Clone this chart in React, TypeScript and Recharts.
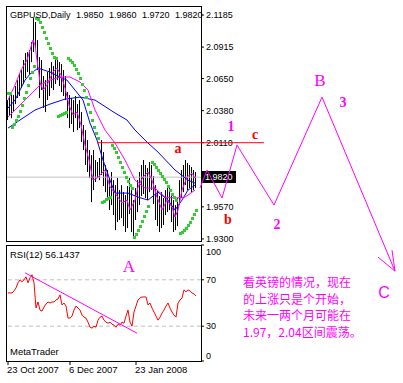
import React from 'react';
import { ComposedChart, Line, Bar, Scatter, XAxis, YAxis, ReferenceLine } from 'recharts';

// GBPUSD daily bars from 23 Oct 2007
const highs = [
  2.0469, 2.0503, 2.0536, 2.0511, 2.0587, 2.0637, 2.0688, 2.0722, 2.0806, 2.0865,
  2.0873, 2.089, 2.0957, 2.1159, 2.1126, 2.0974, 2.0831, 2.0806, 2.0671, 2.0637,
  2.0705, 2.0738, 2.0789, 2.0755, 2.0806, 2.0823, 2.0789, 2.0772, 2.0722, 2.0671,
  2.0536, 2.0511, 2.0486, 2.0469, 2.0503, 2.0435, 2.0469, 2.0368, 2.0259, 2.0216,
  2.0132, 2.0048, 2.0006, 2.0048, 1.9964, 1.9947, 1.9981, 2.0132, 2.0031, 1.9922,
  1.988, 1.9812, 1.9863, 1.9795, 1.9753, 1.9812, 1.9711, 1.9753, 1.9694, 1.9669,
  1.9745, 1.9812, 1.9711, 1.9627, 1.9728, 1.9795, 1.9863, 1.9922, 1.9964, 1.9922,
  1.9896, 1.9947, 1.9922, 1.9829, 1.9753, 1.9711, 1.9661, 1.9694, 1.9644, 1.9711,
  1.9745, 1.9728, 1.9678, 1.9627, 1.9585, 1.9644, 1.9795, 1.988, 1.9922, 1.9964,
  1.9939, 1.9922, 1.9905, 1.988, 1.9863,
];
const lows = [
  2.0301, 2.0334, 2.0317, 2.0368, 2.0435, 2.0486, 2.0503, 2.057, 2.0604, 2.0654,
  2.0705, 2.0688, 2.0789, 2.0873, 2.0907, 2.0722, 2.0486, 2.0553, 2.0402, 2.0368,
  2.0469, 2.0503, 2.057, 2.0553, 2.0604, 2.0637, 2.0587, 2.0536, 2.0503, 2.0469,
  2.0317, 2.0233, 2.0267, 2.02, 2.0317, 2.0216, 2.0233, 2.0115, 2.0048, 1.9922,
  1.9863, 1.9812, 1.961, 1.9711, 1.9779, 1.9812, 1.9795, 1.9838, 1.9745, 1.9694,
  1.9627, 1.9543, 1.9585, 1.9501, 1.9374, 1.9442, 1.9459, 1.9475, 1.9408, 1.9358,
  1.9391, 1.9509, 1.9358, 1.9307, 1.9459, 1.9526, 1.9585, 1.9661, 1.9678, 1.9644,
  1.9627, 1.9694, 1.9711, 1.9593, 1.9459, 1.9408, 1.9358, 1.9391, 1.9417, 1.9501,
  1.9526, 1.9543, 1.9442, 1.9358, 1.9374, 1.9408, 1.9585, 1.9644, 1.9694, 1.9753,
  1.9711, 1.9728, 1.9694, 1.9711, 1.9728,
];
// parabolic SAR, null where it flips
const sar = [
  2.0528, 2.0528,
  2.0242, 2.0267, 2.0301, 2.0334, 2.0376, 2.0427, 2.0486, 2.0536, 2.0595, 2.0654, 2.0705, 2.0755,
  2.1159, 2.1151, 2.1126, 2.1084, 2.1042, 2.0991, 2.0949, 2.0907, 2.0865, 2.0831, 2.0823,
  2.0334, 2.0343, 2.0351, 2.036, 2.0368,
  2.0823, 2.0806, 2.0789, 2.0764, 2.073, 2.0696, 2.0654, 2.0604, 2.0553, 2.0494, 2.0435, 2.0368,
  2.0301, 2.0242, 2.0191, 2.0149,
  null,
  1.961, 1.9619, 1.9635, 1.9644, 1.9652,
  2.009, 2.0065, 2.0031, 1.9989, 1.9947, 1.9905, 1.9863, 1.9821, 1.9787, 1.9753, 1.9728,
  1.9316, 1.9341, 1.9374, 1.9408, 1.945, 1.9492, 1.9534, 1.9577,
  null,
  1.9947, 1.993, 1.9905, 1.988, 1.9854, 1.9829, 1.9804, 1.9779, 1.9745, 1.9711, 1.9678, 1.9652, 1.9627,
  null,
  1.9349, 1.9358, 1.9374, 1.9391, 1.9417, 1.9442, 1.9475, 1.9509, 1.9543,
];
const rsi = [
  58.7, 58.7, 58.7, 60.4, 63.0, 67.4, 70.0, 68.3, 70.0, 72.6,
  67.4, 71.7, 74.3, 67.4, 45.7, 50.9, 43.9, 43.0, 46.5, 49.1,
  50.9, 50.0, 50.9, 50.9, 52.6, 53.5, 57.0, 48.3, 50.0, 47.4,
  37.0, 37.0, 38.7, 43.9, 47.4, 45.7, 43.9, 39.6, 37.8, 37.0,
  33.5, 29.1, 28.3, 30.0, 29.1, 35.2, 37.8, 38.7, 35.2, 33.5,
  32.6, 33.5, 31.7, 30.9, 29.1, 31.7, 30.9, 33.5, 32.6, 38.7,
  43.9, 33.5, 30.0, 42.2, 47.4, 52.6, 54.3, 55.2, 55.2, 55.2,
  48.3, 50.0, 45.7, 42.2, 38.7, 35.2, 37.8, 41.3, 43.9, 47.4,
  50.0, 45.7, 42.2, 39.6, 37.8, 50.0, 52.6, 54.3, 61.3, 59.6,
  61.3, 60.4, 58.7, 57.8, 56.1,
];

// moving averages, [bar, price]
const maFast = [
  [0, 2.0469], [3.5, 2.0595], [6.5, 2.0722], [9.5, 2.0806], [12.5, 2.0974], [13.5, 2.0932],
  [14.5, 2.0806], [16, 2.0621], [17.5, 2.0553], [19.5, 2.0595], [22.5, 2.0705], [24.5, 2.0738],
  [26.5, 2.068], [28.5, 2.057], [30.5, 2.0427], [32.5, 2.0343], [34.5, 2.0368], [36.5, 2.0259],
  [38.5, 2.009], [40.5, 1.9964], [42.5, 1.9795], [44.5, 1.9812], [47, 1.9854], [48.5, 1.988],
  [51, 1.9737], [53.5, 1.9686], [57, 1.9602], [59.5, 1.9627], [61, 1.9543], [63.5, 1.9627],
  [65, 1.9737], [67.5, 1.9821], [70, 1.9863], [72, 1.9795], [74.5, 1.9652], [77, 1.9543],
  [79.5, 1.9627], [82, 1.9568], [83.5, 1.9484], [85, 1.9543], [87, 1.9711], [89.5, 1.9821],
  [92, 1.9854], [93.5, 1.9812],
];
const maSlow = [
  [0, 2.0326], [3.5, 2.0385], [8.5, 2.0469], [12.5, 2.0536], [16, 2.0595], [21, 2.0637],
  [26, 2.0663], [31, 2.0663], [36, 2.0621], [40, 2.0553], [43.5, 2.0385], [48.5, 2.0216],
  [53.5, 2.0107], [58.5, 1.9964], [63.5, 1.9795], [68.5, 1.9728], [73.5, 1.9728], [78.5, 1.9652],
  [83.5, 1.9644], [88.5, 1.9652], [93.5, 1.9711],
];
const blueFast = [
  [0, 2.0402], [3.5, 2.0469], [6, 2.0553], [8.5, 2.0637], [11, 2.0688], [15, 2.0738],
  [21, 2.0705], [26, 2.0663], [29.5, 2.0637], [33.5, 2.0553], [37.5, 2.0469], [41, 2.0275],
  [44.5, 2.0132], [47.5, 1.9964], [51, 1.9795], [53.5, 1.9686], [60, 1.9686], [65, 1.9652],
  [70, 1.9627], [75, 1.9694], [80, 1.9627], [83.5, 1.9543], [87, 1.9627], [90, 1.9711],
  [93.5, 1.9753],
];
const blueSlow = [
  [0, 2.0233], [6, 2.0301], [13.5, 2.0385], [21, 2.0435], [28.5, 2.0477], [36, 2.0494],
  [43.5, 2.0469], [53.5, 2.036], [59.5, 2.0301], [63.5, 2.0216], [70, 2.0107], [75, 2.0031],
  [83.5, 1.988], [90, 1.9795], [93.5, 1.977],
];

const rsiTrend = [[8.5, 76], [64.5, 24]];
const zigzag = [[96, 1.9729], [99.5, 1.988], [107, 1.9644], [114.5, 2.009], [133, 1.9585], [157, 2.0494], [193.5, 1.9029]];
const arrowA = [[185, 1.9147], [193.5, 1.9029]];
const arrowB = [[192, 1.9206], [193.5, 1.9029]];
const resistance = [[44.5, 2.011], [128, 2.011]];

const priceTicks = [1.93, 1.957, 2.011, 2.038, 2.065, 2.0915, 2.1185];
const rsiTicks = [0, 30, 70, 100];
const dateTicks = [0, 31, 64];
const dateLabels = ['23 Oct 2007', '6 Dec 2007', '23 Jan 2008'];
const ohlc = [1.985, 1.986, 1.972, 1.982];
const lastPrice = 1.982;
const note = ['看英镑的情况，现在', '的上涨只是个开始，', '未来一两个月可能在', '1.97，2.04区间震荡。'];

const MAGENTA = '#ff00ff';
const BLUE = '#0000ff';
const RED = '#ff0000';
const FONT = '"Liberation Sans", Arial, sans-serif';
const SERIF = '"Liberation Serif", "Times New Roman", serif';

const toPts = (arr) => arr.map(([i, v]) => ({ i, v }));

const rows = highs.map((h, i) => ({ i, hl: [lows[i], h] }));
const sarPts = sar.map((v, i) => ({ i, v })).filter((d) => d.v != null);
const rsiPts = rsi.map((v, i) => ({ i, v }));

const HLBar = (props) => {
  const { x, y, width, height } = props;
  if (x == null || y == null || isNaN(y)) return null;
  const top = Math.min(y, y + height);
  return <rect x={Math.round(x + width / 2 - 0.5)} y={top} width={1} height={Math.max(1, Math.abs(height))} fill="#000" />;
};

const SarDot = (props) => {
  const { cx, cy } = props;
  if (cx == null || cy == null) return null;
  return <rect x={Math.round(cx) - 1} y={Math.round(cy) - 1} width={3} height={3} fill="#33cc33" />;
};

const RsiTick = ({ x, y, payload }) => {
  const dy = payload.value === 100 ? 7 : payload.value === 0 ? -5 : 0;
  return (
    <text x={x} y={y + dy} dy="0.35em" fontSize={9} fontFamily={FONT} fill="#000" textAnchor="start">
      {payload.value}
    </text>
  );
};

const DateTick = ({ x, y, payload }) => (
  <text x={x - 1} y={y} dy="0.75em" fontSize={9.5} fontFamily={FONT} fill="#000" textAnchor="start">
    {dateLabels[dateTicks.indexOf(payload.value)]}
  </text>
);

const Tag = ({ x, y, c, s, serif = true, bold = false, children }) => (
  <div
    style={{
      position: 'absolute', left: x, top: y, transform: 'translate(-50%,-50%)',
      color: c, fontSize: s, fontFamily: serif ? SERIF : FONT,
      fontWeight: bold ? 'bold' : 'normal', lineHeight: 1, whiteSpace: 'nowrap',
    }}
  >
    {children}
  </div>
);

const abs = (l, t) => ({ position: 'absolute', left: l, top: t });

const line = (data, color, key) => (
  <Line key={key} data={toPts(data)} dataKey="v" stroke={color} strokeWidth={1} dot={false} activeDot={false} isAnimationActive={false} />
);

export default function App() {
  return (
    <div style={{ position: 'absolute', left: 0, top: 0, width: 403, height: 383, background: '#fff', fontFamily: FONT, overflow: 'hidden' }}>
      {/* panel frames */}
      <div style={{ ...abs(6, 6), width: 196, height: 236, border: '1px solid #000', boxSizing: 'border-box' }} />
      <div style={{ ...abs(6, 245), width: 196, height: 117, border: '1px solid #000', boxSizing: 'border-box' }} />

      {/* price panel */}
      <div style={abs(0, 0)}>
        <ComposedChart width={250} height={250} data={rows} margin={{ top: 6, right: 0, bottom: 8, left: 7 }}>
          <XAxis hide type="number" dataKey="i" domain={[-0.5, 96.5]} allowDataOverflow />
          <YAxis
            orientation="right"
            width={49}
            domain={[1.9274, 2.1261]}
            allowDataOverflow
            ticks={priceTicks}
            interval={0}
            tickFormatter={(v) => v.toFixed(4)}
            axisLine={false}
            tickSize={3}
            tickMargin={2}
            tickLine={{ stroke: '#000' }}
            tick={{ fontSize: 9, fill: '#000', fontFamily: FONT }}
          />
          <ReferenceLine y={lastPrice} stroke="#c0c0c0" />
          <Bar dataKey="hl" barSize={1} shape={HLBar} isAnimationActive={false} />
          {line(blueSlow, BLUE, 'b2')}
          {line(blueFast, BLUE, 'b1')}
          {line(maSlow, MAGENTA, 'm2')}
          {line(maFast, MAGENTA, 'm1')}
          <Scatter data={sarPts} dataKey="v" shape={SarDot} isAnimationActive={false} />
        </ComposedChart>
      </div>

      {/* RSI panel */}
      <div style={abs(0, 240)}>
        <ComposedChart width={250} height={143} data={rsiPts} margin={{ top: 5, right: 0, bottom: 0, left: 7 }}>
          <XAxis
            type="number"
            dataKey="i"
            domain={[-0.5, 96.5]}
            allowDataOverflow
            ticks={dateTicks}
            interval={0}
            height={22}
            axisLine={false}
            tickSize={4}
            tickMargin={1}
            tickLine={{ stroke: '#000' }}
            tick={DateTick}
          />
          <YAxis
            orientation="right"
            width={49}
            domain={[0, 100]}
            ticks={rsiTicks}
            interval={0}
            axisLine={false}
            tickSize={3}
            tickMargin={2}
            tickLine={{ stroke: '#000' }}
            tick={RsiTick}
          />
          <ReferenceLine y={70} stroke="#c0c0c0" strokeDasharray="4 3" />
          <ReferenceLine y={30} stroke="#c0c0c0" strokeDasharray="4 3" />
          <Line dataKey="v" stroke={RED} strokeWidth={1} dot={false} activeDot={false} isAnimationActive={false} />
          {line(rsiTrend, MAGENTA, 'tr')}
        </ComposedChart>
      </div>

      {/* texts inside panels */}
      <div style={{ ...abs(10, 9), fontSize: 9, lineHeight: '12px', whiteSpace: 'pre', wordSpacing: 3 }}>
        {'GBPUSD,Daily ' + ohlc.map((v) => v.toFixed(4)).join(' ')}
      </div>
      <div style={{ ...abs(10, 249), fontSize: 9.5, lineHeight: '12px' }}>RSI(12) 56.1437</div>
      <div style={{ ...abs(10, 346), fontSize: 9.5, lineHeight: '12px' }}>MetaTrader</div>
      <div style={{ ...abs(202, 171), width: 34, height: 12, background: '#000', color: '#fff', fontSize: 9, lineHeight: '12px', paddingLeft: 3, boxSizing: 'border-box' }}>
        {lastPrice.toFixed(4)}
      </div>

      {/* drawn projection over everything */}
      <div style={abs(0, 0)}>
        <ComposedChart width={403} height={383} data={toPts(zigzag)} margin={{ top: 0, right: 0, bottom: 0, left: 0 }}>
          <XAxis hide type="number" dataKey="i" domain={[-4, 197.5]} allowDataOverflow />
          <YAxis hide domain={[1.80874, 2.13113]} allowDataOverflow />
          {line(resistance, RED, 'res')}
          <Line dataKey="v" stroke={MAGENTA} strokeWidth={1} dot={false} activeDot={false} isAnimationActive={false} />
          {line(arrowA, MAGENTA, 'aa')}
          {line(arrowB, MAGENTA, 'ab')}
        </ComposedChart>
      </div>

      <Tag x={178} y={149} c={RED} s={14} bold>a</Tag>
      <Tag x={228} y={220} c={RED} s={14} bold>b</Tag>
      <Tag x={255} y={135} c={RED} s={14} bold>c</Tag>
      <Tag x={231} y={127} c={MAGENTA} s={14} bold>1</Tag>
      <Tag x={277} y={225} c={MAGENTA} s={14} bold>2</Tag>
      <Tag x={343} y={103} c={MAGENTA} s={14} bold>3</Tag>
      <Tag x={320} y={80} c={MAGENTA} s={17}>B</Tag>
      <Tag x={129} y={266} c={MAGENTA} s={17}>A</Tag>
      <Tag x={384} y={293} c={MAGENTA} s={16} serif={false}>C</Tag>

      <div style={{ ...abs(243, 274), color: MAGENTA, fontSize: 12, lineHeight: '16.6px', fontFamily: '"Noto Sans CJK SC", sans-serif', whiteSpace: 'pre' }}>
        {note.map((l) => (
          <div key={l}>{l}</div>
        ))}
      </div>
    </div>
  );
}
